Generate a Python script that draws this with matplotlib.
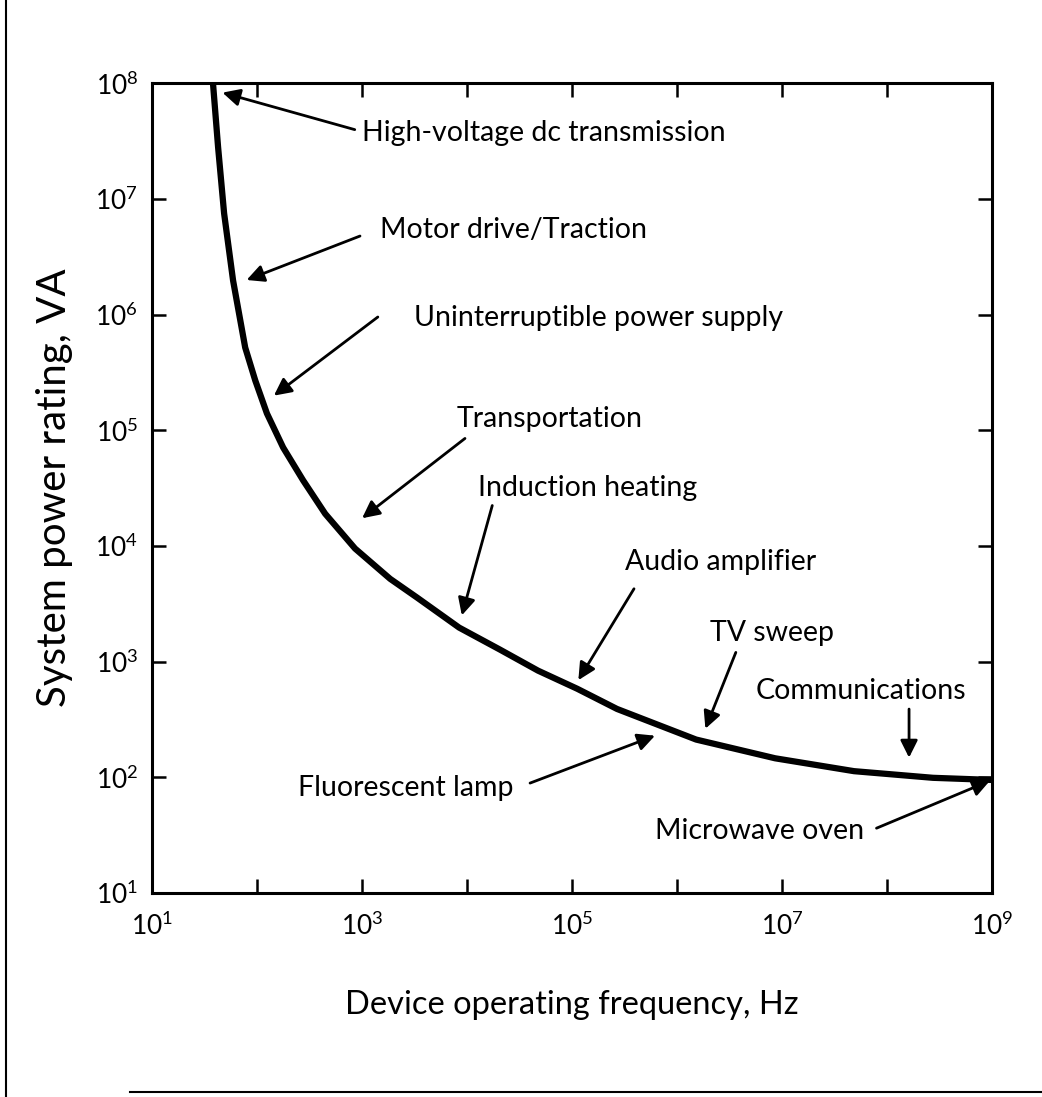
import numpy as np
import matplotlib.pyplot as plt
from matplotlib.lines import Line2D

plt.rcParams['font.family'] = ['Lato', 'DejaVu Sans']

# curve (Hz, VA)
freq = [38, 42.5, 48.5, 59, 77, 96, 124, 177, 274, 445, 857, 1850, 3340,
        8400, 2.06e4, 4.74e4, 1.12e5, 2.68e5, 1.52e6, 8.6e6, 4.85e7,
        2.74e8, 9.6e8]
power = [1.0e8, 2.8e7, 7.5e6, 1.98e6, 5.2e5, 2.7e5, 1.4e5, 7.1e4, 3.7e4,
         1.9e4, 9.5e3, 5.2e3, 3.58e3, 1.97e3, 1.27e3, 836, 583, 390, 212,
         146, 113, 99, 95]

labels = ['High-voltage dc transmission', 'Motor drive/Traction',
          'Uninterruptible power supply', 'Transportation',
          'Induction heating', 'Audio amplifier', 'TV sweep',
          'Communications', 'Fluorescent lamp', 'Microwave oven']

# (log10 x, log10 y) of label, arrow tail, arrow tip
text_pos = [(3.0, 7.57), (3.17, 6.73), (3.49, 5.97), (3.90, 5.10),
            (4.10, 4.50), (5.50, 3.86), (6.31, 3.25), (6.75, 2.75),
            (2.39, 1.91), (5.79, 1.54)]
tails = [(2.93, 7.60), (2.98, 6.68), (3.15, 5.98), (3.98, 4.93),
         (4.24, 4.35), (5.59, 3.63), (6.56, 3.08), (8.21, 2.59),
         (4.60, 1.95), (7.90, 1.56)]
tips = [(1.67, 7.92), (1.90, 6.30), (2.16, 5.30), (3.00, 4.24),
        (3.95, 3.40), (5.06, 2.84), (6.27, 2.42), (8.21, 2.17),
        (5.79, 2.36), (8.98, 1.97)]

fig = plt.figure(figsize=(10.42, 10.97), dpi=100)
ax = fig.add_axes([0.146, 0.186, 0.806, 0.738])

ax.plot(freq, power, color='k', lw=4.5, solid_joinstyle='round')
ax.set_xscale('log')
ax.set_yscale('log')
ax.set_xlim(1e1, 1e9)
ax.set_ylim(1e1, 1e8)

xt = 10.0 ** np.arange(1, 10)
yt = 10.0 ** np.arange(1, 9)
ax.set_xticks(xt)
ax.set_xticklabels([r'$\mathregular{10^{%d}}$' % k if k % 2 == 1 else ''
                    for k in range(1, 10)])
ax.set_yticks(yt)
ax.set_yticklabels([r'$\mathregular{10^{%d}}$' % k for k in range(1, 9)])
ax.minorticks_off()
ax.tick_params(which='both', direction='in', length=10, width=1.8,
               top=True, right=True, labelsize=19)
ax.tick_params(axis='x', pad=14)
ax.tick_params(axis='y', pad=10)
for s in ax.spines.values():
    s.set_linewidth(2.2)

for lab, tp, tl, tip in zip(labels, text_pos, tails, tips):
    ax.text(10 ** tp[0], 10 ** tp[1], lab, fontsize=20.5, va='center', ha='left')
    ax.annotate('', xy=(10 ** tip[0], 10 ** tip[1]),
                xytext=(10 ** tl[0], 10 ** tl[1]),
                arrowprops=dict(arrowstyle='-|>', lw=2, color='k',
                                mutation_scale=26, shrinkA=0, shrinkB=0))

ax.set_xlabel('Device operating frequency, Hz', fontsize=23.5, labelpad=36)
ax.set_ylabel('System power rating, VA', fontsize=29, labelpad=16)

# page edges of the scan
fig.add_artist(Line2D([0.006, 0.006], [0, 1], color='k', lw=1.5))
fig.add_artist(Line2D([0.125, 1], [0.005, 0.005], color='k', lw=1.5))

fig.savefig('out.png', dpi=100)
